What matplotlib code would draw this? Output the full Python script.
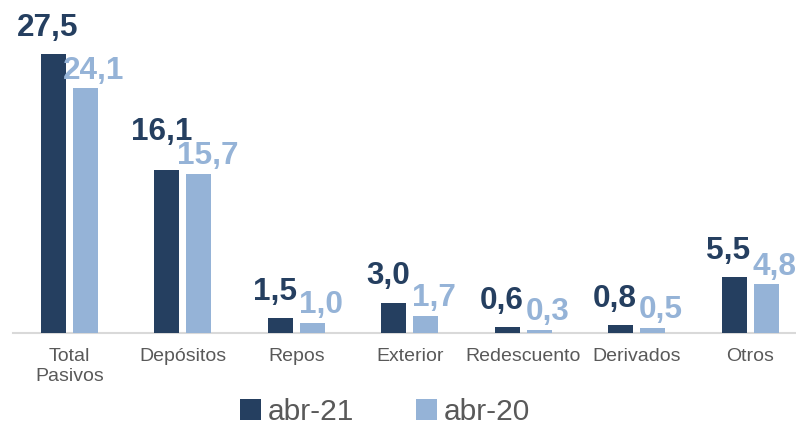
import matplotlib
matplotlib.use("Agg")
import matplotlib.pyplot as plt
import numpy as np

categories = ["Total\nPasivos", "Depósitos", "Repos", "Exterior", "Redescuento", "Derivados", "Otros"]
abr21 = [27.5, 16.1, 1.5, 3.0, 0.6, 0.8, 5.5]
abr20 = [24.1, 15.7, 1.0, 1.7, 0.3, 0.5, 4.8]
series_names = ["abr-21", "abr-20"]

dark = "#253F60"
light = "#95B3D7"
gray = "#595959"

plt.rcParams['font.family'] = ['Liberation Sans', 'DejaVu Sans']

fig = plt.figure(figsize=(7.96, 4.28), dpi=100)
ax = fig.add_axes([12.8 / 796, (428 - 333) / 428, 794 / 796, 333 / 428])

x = np.arange(len(categories))
w = 0.22
off = 0.141
b1 = ax.bar(x - off, abr21, w, color=dark, label=series_names[0], zorder=3)
b2 = ax.bar(x + off, abr20, w, color=light, label=series_names[1], zorder=3)

ax.set_xlim(-0.5, len(categories) - 0.5)
ax.set_ylim(0, 333 / 10.15)

fmt = lambda v: f"{v:.1f}".replace(".", ",")
dark_txt, light_txt = [], []
for xi, v in zip(x, abr21):
    dark_txt.append(ax.annotate(fmt(v), (xi - off, v), xytext=(-4, 8), textcoords="offset points",
                                ha="center", va="bottom", fontsize=22.7, fontweight="bold", color=dark))
for xi, v in zip(x, abr20):
    light_txt.append(ax.annotate(fmt(v), (xi + off, v), xytext=(6, 2), textcoords="offset points",
                                 ha="center", va="bottom", fontsize=22.7, fontweight="bold", color=light))

ax.set_xticks(x)
ax.set_xticklabels(categories, fontsize=14, color=gray, linespacing=1.2)
ax.tick_params(axis="x", length=0, pad=11)
ax.set_yticks([])
for s in ["top", "right", "left"]:
    ax.spines[s].set_visible(False)
ax.spines["bottom"].set_color("#D9D9D9")
ax.spines["bottom"].set_linewidth(1.5)

# push dark labels up if they overlap the light label of the same group
fig.canvas.draw()
r = fig.canvas.get_renderer()
for td, tl in zip(dark_txt, light_txt):
    bd = td.get_window_extent(r)
    bl = tl.get_window_extent(r)
    if bd.x1 > bl.x0 + 2 and bd.y0 < bl.y1 - 6:
        shift = (bl.y1 - 6 - bd.y0) * 72 / fig.dpi
        ox, oy = td.xyann
        td.xyann = (ox, oy + shift)

leg = fig.legend(handles=[b1, b2], labels=series_names, loc="center",
                 bbox_to_anchor=(385 / 796, 1 - 412 / 428), ncol=2, frameon=False,
                 fontsize=21.5, handlelength=0.7, handleheight=0.7, handletextpad=0.2,
                 columnspacing=2.1, labelcolor=gray)

fig.savefig("out.png", dpi=100)
